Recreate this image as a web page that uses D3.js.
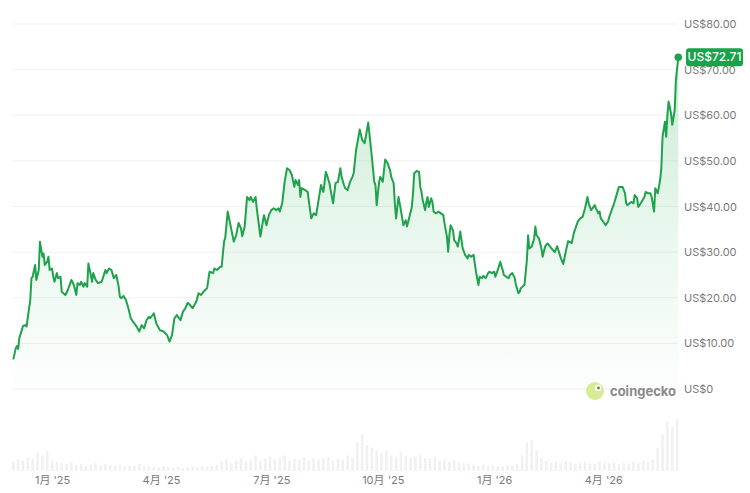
<!DOCTYPE html>
<html><head><meta charset="utf-8">
<script src="https://cdn.jsdelivr.net/npm/d3@7"></script>
<style>
body{margin:0;background:#fff}
svg{display:block}
text{font-family:Inter,"Noto Sans","Noto Sans CJK SC",sans-serif}
</style>
</head><body>
<svg id="chart" width="750" height="493"></svg>
<script>
const startDate = "2024-11-30";
const dayOffsets = [0,2,3,4,5,7,8,10,11,12,14,15,16,18,19,21,22,24,25,26,28,29,30,32,33,34,36,37,39,40,43,45,48,50,52,53,55,56,58,59,61,62,64,65,66,68,70,73,76,77,79,81,83,85,87,88,89,91,93,95,97,99,102,104,106,108,110,112,113,116,118,121,124,127,129,131,133,135,138,140,142,144,146,148,151,153,155,157,160,162,165,166,168,171,172,174,175,177,179,182,184,186,188,189,191,193,195,196,198,200,201,204,206,207,209,211,213,215,217,219,220,222,224,226,228,230,232,233,235,236,237,238,241,243,245,246,248,250,252,254,256,258,259,261,263,264,266,268,270,271,273,274,276,278,280,281,283,285,286,288,290,291,293,294,296,298,299,300,302,303,305,307,309,311,312,314,315,316,318,320,322,324,325,327,329,330,331,333,335,336,337,338,340,341,342,343,345,346,347,349,351,353,355,356,358,359,360,361,363,364,366,367,369,370,371,373,375,376,378,380,381,382,384,385,387,388,390,392,393,395,397,398,400,402,404,405,407,409,410,412,414,415,417,418,419,421,422,424,425,426,428,430,431,432,434,436,437,439,441,442,444,447,449,452,454,456,458,461,463,466,468,470,472,474,475,477,479,480,481,483,484,485,487,489,491,492,494,496,498,500,501,503,505,506,507,510,512,513,515,516,518,521,522,524,526,527,529,530,532,533,534,535,536,538,539,540,541,543,544,546,547,549];
const prices = [6.5,8.9,9.4,8.8,11.2,12.9,13.8,14.0,13.7,15.8,19.5,24.3,24.6,27.2,23.9,26.1,32.3,29.0,29.7,27.2,27.9,29.0,26.1,26.4,24.6,23.5,25.4,24.3,24.6,21.3,20.6,21.7,23.9,22.8,20.6,23.2,22.8,23.5,22.4,23.2,22.4,27.5,25.0,23.5,25.4,23.9,23.2,23.5,26.1,25.4,26.4,26.1,24.3,25.0,22.4,20.2,19.9,20.4,19.5,17.7,15.5,14.7,13.6,12.6,14.0,13.3,15.1,15.8,15.5,16.6,14.4,12.9,12.6,11.8,10.4,11.8,15.5,16.2,15.1,16.9,17.7,18.9,18.4,17.7,19.1,21.0,20.6,21.3,22.1,25.7,25.4,26.4,26.1,26.8,26.8,32.3,33.2,38.9,36.3,32.3,33.7,36.4,35.2,33.5,35.6,42.1,41.4,42.1,41.0,42.1,39.6,33.4,36.7,38.1,35.9,38.1,39.2,39.6,39.2,39.6,38.9,40.7,45.4,48.4,48.0,46.9,44.3,45.8,44.7,45.8,42.1,44.0,43.6,43.2,39.2,37.4,38.5,38.1,41.4,44.7,43.2,47.6,46.9,45.1,42.1,40.7,45.1,45.4,48.4,46.5,44.7,44.0,43.6,45.4,46.5,47.3,52.4,55.3,56.9,54.6,53.9,55.3,58.4,56.0,50.9,45.4,44.7,40.3,45.4,46.5,45.4,50.3,49.5,48.0,46.5,45.1,40.7,37.4,42.1,39.2,35.9,37.0,35.6,37.7,39.9,42.9,47.3,47.8,47.6,44.3,43.2,41.4,39.2,41.0,42.1,39.9,41.8,41.0,38.9,38.5,38.9,38.5,38.1,36.3,33.4,30.1,33.7,35.9,34.8,32.6,31.9,31.2,34.5,32.6,30.8,29.4,28.6,29.4,29.0,29.4,27.5,25.7,22.8,24.6,24.3,24.8,24.3,25.4,25.7,25.4,25.7,24.6,26.1,27.9,26.1,25.0,24.6,24.3,25.0,25.4,24.3,22.8,21.0,21.3,22.1,22.6,22.8,28.3,33.7,30.8,31.2,33.0,35.6,33.7,33.0,30.8,29.0,31.2,31.9,31.6,30.9,30.0,31.3,28.7,27.4,30.0,32.4,32.0,34.4,36.7,37.4,37.7,39.6,42.1,40.7,39.2,39.9,40.3,39.6,38.5,38.9,37.4,36.7,35.9,36.7,37.7,39.2,40.7,42.5,44.3,44.3,44.3,42.9,40.7,40.3,41.0,40.7,42.5,41.8,39.9,40.7,42.1,43.2,42.9,42.9,42.1,38.9,44.0,42.9,44.3,45.8,48.4,55.3,58.6,55.3,60.1,63.0,60.4,57.9,61.1,67.7,72.71];
const volumeStepDays = 4;
const volumes = [18,22,20,25,24,35,30,38,20,18,15,14,16,12,14,10,12,15,11,13,12,10,12,9,11,10,14,10,9,8,7,9,8,7,8,6,7,8,7,9,8,10,12,18,22,15,20,25,18,22,30,20,24,28,22,25,30,20,24,22,26,20,24,22,25,28,20,24,22,30,26,55,70,50,45,40,35,40,30,28,36,30,26,28,32,25,24,28,20,22,18,20,16,15,14,12,10,12,9,11,10,9,12,11,14,30,55,60,40,25,20,16,18,15,20,17,14,16,18,15,14,19,16,15,17,14,16,14,18,15,20,18,22,45,70,95,85,100];
const yTicks = [0,10,20,30,40,50,60,70,80];
const xTickDates = ["2025-01-01","2025-04-01","2025-07-01","2025-10-01","2026-01-01","2026-04-01"];
const xTickLabels = ["1月 '25","4月 '25","7月 '25","10月 '25","1月 '26","4月 '26"];
const brandName = "coingecko";

const svg = d3.select("#chart");
const start = new Date(startDate + "T00:00:00Z");
const endDate = d3.utcDay.offset(start, dayOffsets[dayOffsets.length-1]);
const data = dayOffsets.map((d,i)=>({date:d3.utcDay.offset(start,d), v:prices[i]}));

const x = d3.scaleUtc().domain([start, endDate]).range([13.3, 678.3]);
const y = d3.scaleLinear().domain([0,80]).range([389,24]);
const volY = d3.scaleLinear().domain([0,100]).range([471,419]);

const green = "#1fa24c";
const defs = svg.append("defs");
const grad = defs.append("linearGradient").attr("id","fillGrad")
  .attr("gradientUnits","userSpaceOnUse").attr("x1",0).attr("x2",0)
  .attr("y1",y(72.71)).attr("y2",y(0));
grad.append("stop").attr("offset","0%").attr("stop-color","#2fb35a").attr("stop-opacity",0.26);
grad.append("stop").attr("offset","55%").attr("stop-color","#2fb35a").attr("stop-opacity",0.1);
grad.append("stop").attr("offset","100%").attr("stop-color","#2fb35a").attr("stop-opacity",0.01);

// grid
svg.append("g").selectAll("line").data(yTicks).join("line")
  .attr("x1",12).attr("x2",678).attr("y1",d=>y(d)).attr("y2",d=>y(d))
  .attr("stroke","#f1f1f1").attr("stroke-width",1);

// volume bars
const volStartDay = 0;
svg.append("g").selectAll("rect").data(volumes).join("rect")
  .attr("x",(d,i)=>x(d3.utcDay.offset(start, volStartDay + i*volumeStepDays)) - 1.3)
  .attr("width",2.6)
  .attr("y",d=>volY(d))
  .attr("height",d=>471-volY(d))
  .attr("fill","#f1f1f1");

// area
const area = d3.area().x(d=>x(d.date)).y0(y(0)).y1(d=>y(d.v));
svg.append("path").datum(data).attr("d",area).attr("fill","url(#fillGrad)");

// line
const line = d3.line().x(d=>x(d.date)).y(d=>y(d.v));
svg.append("path").datum(data).attr("d",line).attr("fill","none")
  .attr("stroke",green).attr("stroke-width",2).attr("stroke-linejoin","round");

// y axis labels
const yAxis = d3.axisRight(y).tickValues(yTicks)
  .tickFormat(d=> d===0 ? "US$0" : "US$" + d3.format(".2f")(d)).tickSize(0).tickPadding(0);
const yg = svg.append("g").attr("transform","translate(684,0)").call(yAxis);
yg.select(".domain").remove();
yg.selectAll("text").attr("fill","#7a7a7a").attr("font-size",11).attr("font-family","Inter,'Noto Sans',sans-serif");

// x axis labels
const xAxis = d3.axisBottom(x).tickValues(xTickDates.map(s=>new Date(s+"T00:00:00Z")))
  .tickFormat((d,i)=>xTickLabels[i]).tickSize(0).tickPadding(0);
const xg = svg.append("g").attr("transform","translate(0,476)").call(xAxis);
xg.select(".domain").remove();
xg.selectAll("text").attr("fill","#7a7a7a").attr("font-size",11).attr("font-family","Inter,'Noto Sans','Noto Sans CJK SC',sans-serif");

// last point
const last = data[data.length-1];
svg.append("circle").attr("cx",x(last.date)).attr("cy",y(last.v)).attr("r",3.8).attr("fill",green);
const lbl = svg.append("g");
lbl.append("rect").attr("x",686).attr("y",y(last.v)-9).attr("width",57).attr("height",18).attr("rx",3).attr("fill","#16a34a");
lbl.append("text").attr("x",714.5).attr("y",y(last.v)).attr("dy","0.35em").attr("text-anchor","middle")
  .attr("fill","#fff").attr("font-size",12).attr("font-weight",500).text("US$" + d3.format(".2f")(last.v));

// brand
const b = svg.append("g");
b.append("circle").attr("cx",595).attr("cy",391).attr("r",9).attr("fill","#d8ea94");
b.append("circle").attr("cx",598).attr("cy",388).attr("r",3.2).attr("fill","#fff");
b.append("circle").attr("cx",598.5).attr("cy",388).attr("r",1.4).attr("fill","#6a7d3a");
b.append("text").attr("x",610).attr("y",391).attr("dy","0.35em").attr("fill","#8a8a8a")
  .attr("font-size",13).attr("font-weight",700).text(brandName);
</script>
</body></html>
